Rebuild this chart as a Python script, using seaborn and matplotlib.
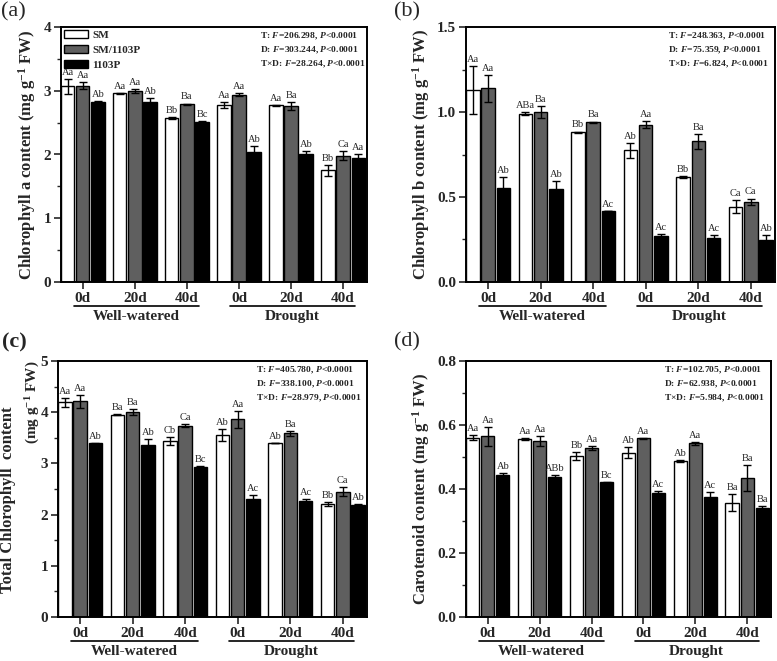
import numpy as np
import pandas as pd
import matplotlib
matplotlib.use('Agg')
import matplotlib.pyplot as plt
from matplotlib.ticker import AutoMinorLocator, FormatStrFormatter
import seaborn as sns

sns.set_style('ticks')
plt.rcParams['font.family'] = ['Liberation Serif', 'DejaVu Serif']
plt.rcParams['mathtext.fontset'] = 'custom'
plt.rcParams['mathtext.rm'] = 'Liberation Serif:bold'
plt.rcParams['mathtext.bf'] = 'Liberation Serif:bold'
plt.rcParams['mathtext.it'] = 'Liberation Serif:italic:bold'

# groups / treatments
groups = ['WW 0d', 'WW 20d', 'WW 40d', 'D 0d', 'D 20d', 'D 40d']
day_labels = ['0d', '20d', '40d', '0d', '20d', '40d']
rootstocks = ['SM', 'SM/1103P', '1103P']
colors = ['white', '#5f5f5f', 'black']

# (a) chlorophyll a
chla_sm = [3.07, 2.96, 2.57, 2.78, 2.77, 1.75]
chla_gr = [3.08, 3.00, 2.79, 2.94, 2.76, 1.98]
chla_p = [2.83, 2.82, 2.51, 2.04, 2.01, 1.95]
chla_sm_err = [0.12, 0.01, 0.02, 0.05, 0.01, 0.08]
chla_gr_err = [0.06, 0.03, 0.01, 0.02, 0.06, 0.07]
chla_p_err = [0.01, 0.07, 0.01, 0.09, 0.04, 0.06]
chla_sm_let = ['Aa', 'Aa', 'Bb', 'Aa', 'Aa', 'Bb']
chla_gr_let = ['Aa', 'Aa', 'Ba', 'Aa', 'Ba', 'Ca']
chla_p_let = ['Ab', 'Ab', 'Bc', 'Ab', 'Ab', 'Aa']

# (b) chlorophyll b
chlb_sm = [1.13, 0.99, 0.88, 0.775, 0.617, 0.442]
chlb_gr = [1.14, 1.00, 0.94, 0.925, 0.828, 0.471]
chlb_p = [0.555, 0.545, 0.42, 0.27, 0.257, 0.247]
chlb_sm_err = [0.14, 0.01, 0.005, 0.043, 0.004, 0.038]
chlb_gr_err = [0.08, 0.035, 0.004, 0.02, 0.043, 0.02]
chlb_p_err = [0.06, 0.05, 0.0, 0.01, 0.02, 0.027]
chlb_sm_let = ['Aa', 'ABa', 'Bb', 'Ab', 'Bb', 'Ca']
chlb_gr_let = ['Aa', 'Ba', 'Ba', 'Aa', 'Ba', 'Ca']
chlb_p_let = ['Ab', 'Ab', 'Ac', 'Ac', 'Ac', 'Ab']

# (c) total chlorophyll
tot_sm = [4.19, 3.95, 3.44, 3.56, 3.39, 2.20]
tot_gr = [4.21, 4.00, 3.74, 3.86, 3.59, 2.45]
tot_p = [3.39, 3.36, 2.92, 2.31, 2.27, 2.19]
tot_sm_err = [0.09, 0.01, 0.08, 0.12, 0.0, 0.04]
tot_gr_err = [0.12, 0.06, 0.03, 0.16, 0.05, 0.08]
tot_p_err = [0.01, 0.12, 0.03, 0.08, 0.03, 0.01]
tot_sm_let = ['Aa', 'Ba', 'Cb', 'Ab', 'Ab', 'Bb']
tot_gr_let = ['Aa', 'Ba', 'Ca', 'Aa', 'Ba', 'Ca']
tot_p_let = ['Ab', 'Ab', 'Bc', 'Ac', 'Ac', 'Ab']

# (d) carotenoid
car_sm = [0.560, 0.556, 0.503, 0.513, 0.487, 0.357]
car_gr = [0.565, 0.550, 0.527, 0.558, 0.543, 0.435]
car_p = [0.443, 0.438, 0.421, 0.389, 0.375, 0.340]
car_sm_err = [0.008, 0.002, 0.013, 0.017, 0.003, 0.027]
car_gr_err = [0.030, 0.015, 0.006, 0.002, 0.005, 0.040]
car_p_err = [0.008, 0.007, 0.002, 0.004, 0.015, 0.006]
car_sm_let = ['Aa', 'Aa', 'Bb', 'Ab', 'Ab', 'Ba']
car_gr_let = ['Aa', 'Aa', 'Aa', 'Aa', 'Aa', 'Ba']
car_p_let = ['Ab', 'ABb', 'Bc', 'Ac', 'Ac', 'Ba']

panels = [
    dict(tag='(a)', vals=[chla_sm, chla_gr, chla_p], errs=[chla_sm_err, chla_gr_err, chla_p_err],
         lets=[chla_sm_let, chla_gr_let, chla_p_let], ylim=4, ystep=1, fmt='%d',
         ylabel='Chlorophyll a content (mg g$^{-1}$ FW)',
         stats=['T: $F$=206.298, $P$<0.0001', 'D: $F$=303.244, $P$<0.0001', 'T×D: $F$=28.264, $P$<0.0001'],
         rect=[61, 27, 367, 282], statx=0.65, legend=True, tagpos=(1, 2), tagbold=False),
    dict(tag='(b)', vals=[chlb_sm, chlb_gr, chlb_p], errs=[chlb_sm_err, chlb_gr_err, chlb_p_err],
         lets=[chlb_sm_let, chlb_gr_let, chlb_p_let], ylim=1.5, ystep=0.5, fmt='%.1f',
         ylabel='Chlorophyll b content (mg g$^{-1}$ FW)',
         stats=['T: $F$=248.363, $P$<0.0001', 'D: $F$=75.359, $P$<0.0001', 'T×D: $F$=6.824, $P$<0.0001'],
         rect=[466, 27, 775, 282], statx=0.655, legend=False, tagpos=(394, 2), tagbold=False),
    dict(tag='(c)', vals=[tot_sm, tot_gr, tot_p], errs=[tot_sm_err, tot_gr_err, tot_p_err],
         lets=[tot_sm_let, tot_gr_let, tot_p_let], ylim=5, ystep=1, fmt='%d',
         ylabel=None,
         stats=['T: $F$=405.780, $P$<0.0001', 'D: $F$=338.100, $P$<0.0001', 'T×D: $F$=28.979, $P$<0.0001'],
         rect=[58, 361, 367, 617], statx=0.64, legend=False, tagpos=(2, 332), tagbold=True),
    dict(tag='(d)', vals=[car_sm, car_gr, car_p], errs=[car_sm_err, car_gr_err, car_p_err],
         lets=[car_sm_let, car_gr_let, car_p_let], ylim=0.8, ystep=0.2, fmt='%.1f',
         ylabel='Carotenoid content (mg g$^{-1}$ FW)',
         stats=['T: $F$=102.705, $P$<0.0001', 'D: $F$=62.938, $P$<0.0001', 'T×D: $F$=5.984, $P$<0.0001'],
         rect=[466, 361, 771, 617], statx=0.65, legend=False, tagpos=(394, 332), tagbold=False),
]

W, H = 777, 661
fig = plt.figure(figsize=(W / 100, H / 100), dpi=100)

for p in panels:
    l, t, r, b = p['rect']
    ax = fig.add_axes([l / W, 1 - b / H, (r - l) / W, (b - t) / H])

    df = pd.DataFrame({
        'group': groups * 3,
        'rootstock': np.repeat(rootstocks, len(groups)),
        'value': np.concatenate(p['vals']),
    })
    sns.barplot(data=df, x='group', y='value', hue='rootstock', order=groups, hue_order=rootstocks,
                palette=colors, edgecolor='black', linewidth=1.0, width=0.87, gap=0.12,
                errorbar=None, legend=p['legend'], ax=ax)

    # error bars + letters, from the bar positions seaborn made
    for cont, err, lets in zip(ax.containers, p['errs'], p['lets']):
        xs = [bar.get_x() + bar.get_width() / 2 for bar in cont]
        ys = [bar.get_height() for bar in cont]
        ax.errorbar(xs, ys, yerr=err, fmt='none', ecolor='black', elinewidth=1.0,
                    capsize=3, capthick=1.0)
        for x, y, e, s in zip(xs, ys, err, lets):
            ax.annotate(s, (x, y + e), xytext=(0, 1.5), textcoords='offset points',
                        ha='center', va='bottom', fontsize=7.5)

    ax.set_xlim(-0.42, 5.46)
    ax.set_ylim(0, p['ylim'])
    ax.set_yticks(np.arange(0, p['ylim'] + 1e-9, p['ystep']))
    ax.yaxis.set_major_formatter(FormatStrFormatter(p['fmt']))
    ax.yaxis.set_minor_locator(AutoMinorLocator(2))
    ax.set_xticks(range(6))
    ax.set_xticklabels(day_labels, fontsize=11, fontweight='bold')
    for lab in ax.get_yticklabels():
        lab.set_fontsize(11)
        lab.set_fontweight('bold')
    ax.tick_params(axis='both', which='major', direction='out', length=5, width=1.2, pad=2)
    ax.tick_params(axis='y', which='minor', direction='out', length=3, width=1.0)
    for sp in ax.spines.values():
        sp.set_linewidth(1.4)
        sp.set_color('black')
    ax.set_xlabel('')
    if p['ylabel']:
        ax.set_ylabel(p['ylabel'], fontsize=12, fontweight='bold', labelpad=4)
    else:
        ax.set_ylabel('')
        # the two lines of this label sit apart in the original
        fig.text(8 / W, 1 - 500 / H, 'Total Chlorophyll  content', rotation=90,
                 ha='center', va='center', fontsize=12, fontweight='bold')
        fig.text(33 / W, 1 - 402 / H, '(mg g$^{-1}$ FW)', rotation=90,
                 ha='center', va='center', fontsize=11, fontweight='bold')

    # underline under day labels and treatment names
    tr = ax.get_xaxis_transform()
    for x0, x1, name in [(-0.17, 2.24, 'Well-watered'), (2.83, 5.22, 'Drought')]:
        ax.plot([x0, x1], [-0.095, -0.095], transform=tr, color='black', lw=1.2, clip_on=False)
        ax.text((x0 + x1) / 2, -0.135, name, transform=tr, ha='center', va='center',
                fontsize=11, fontweight='bold')

    # stats text
    ax.text(p['statx'], 0.985, '\n'.join(p['stats']), transform=ax.transAxes, ha='left', va='top',
            fontsize=6.8, fontweight='bold', linespacing=1.4)

    if p['legend']:
        ax.legend(loc='upper left', frameon=False, prop={'weight': 'bold', 'size': 8},
                  handlelength=2.1, handleheight=0.7, labelspacing=0.45, handletextpad=0.4,
                  borderaxespad=0.15, borderpad=0.15)

    fig.text(p['tagpos'][0] / W, 1 - p['tagpos'][1] / H, p['tag'], ha='left', va='top',
             fontsize=16, fontweight='bold' if p['tagbold'] else 'normal')

fig.savefig('out.png', dpi=100)
